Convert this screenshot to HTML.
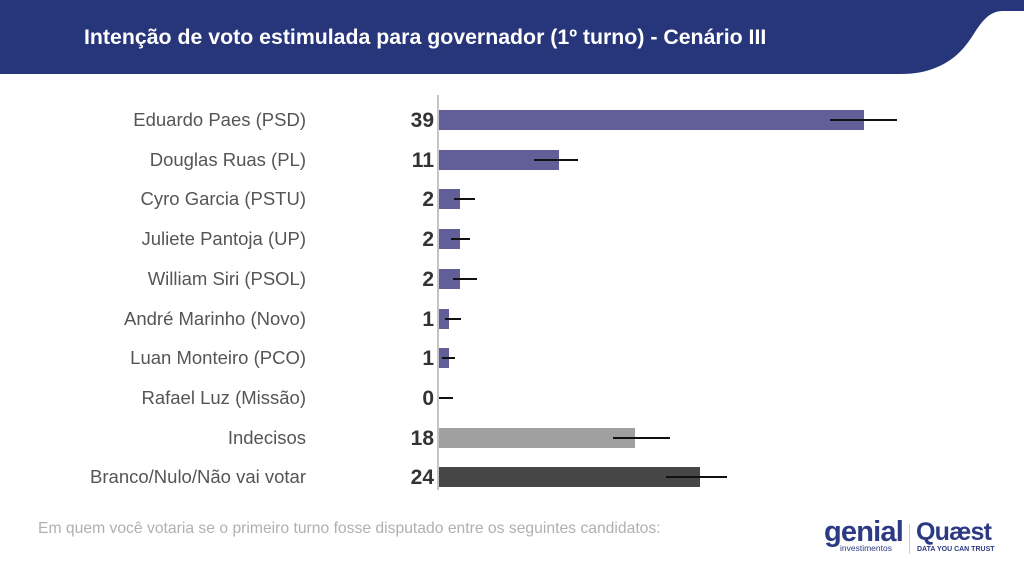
<!DOCTYPE html>
<html><head><meta charset="utf-8"><style>
body{margin:0;width:1024px;height:575px;background:#fff;position:relative;overflow:hidden;font-family:"Liberation Sans",sans-serif}
.t{position:absolute;white-space:nowrap}
.lab{position:absolute;right:718px;font-size:18.5px;color:#555;line-height:20px;white-space:nowrap}
.val{position:absolute;right:590px;font-size:21px;font-weight:bold;color:#333;line-height:20px;margin-top:1px}
.bar{position:absolute;left:439px;height:20px}
.eb{position:absolute;height:2px;background:#111}
</style></head><body>
<svg width="1024" height="80" style="position:absolute;left:0;top:0">
<path d="M0 0 H1024 V11 H1003 C990 11 983 20 975 32 C965 48 955 60 935 68 C925 72 915 74 900 74 H0 Z" fill="#27357a"/>
</svg>
<div class="t" style="left:84px;top:25px;font-size:21.3px;font-weight:bold;color:#fff">Intenção de voto estimulada para governador (1º turno) - Cenário III</div>

<div style="position:absolute;left:437px;top:95px;width:2px;height:395px;background:#c4c4c4"></div>

<div class="lab" style="top:110px">Eduardo Paes (PSD)</div>
<div class="lab" style="top:150px">Douglas Ruas (PL)</div>
<div class="lab" style="top:189px">Cyro Garcia (PSTU)</div>
<div class="lab" style="top:229px">Juliete Pantoja (UP)</div>
<div class="lab" style="top:269px">William Siri (PSOL)</div>
<div class="lab" style="top:309px">André Marinho (Novo)</div>
<div class="lab" style="top:348px">Luan Monteiro (PCO)</div>
<div class="lab" style="top:388px">Rafael Luz (Missão)</div>
<div class="lab" style="top:428px">Indecisos</div>
<div class="lab" style="top:467px">Branco/Nulo/Não vai votar</div>

<div class="val" style="top:110px">39</div>
<div class="val" style="top:150px">11</div>
<div class="val" style="top:189px">2</div>
<div class="val" style="top:229px">2</div>
<div class="val" style="top:269px">2</div>
<div class="val" style="top:309px">1</div>
<div class="val" style="top:348px">1</div>
<div class="val" style="top:388px">0</div>
<div class="val" style="top:428px">18</div>
<div class="val" style="top:467px">24</div>

<div class="bar" style="top:110px;width:425px;background:#625e98"></div>
<div class="bar" style="top:150px;width:120px;background:#625e98"></div>
<div class="bar" style="top:189px;width:21px;background:#625e98"></div>
<div class="bar" style="top:229px;width:21px;background:#625e98"></div>
<div class="bar" style="top:269px;width:21px;background:#625e98"></div>
<div class="bar" style="top:309px;width:10px;background:#625e98"></div>
<div class="bar" style="top:348px;width:10px;background:#625e98"></div>
<div class="bar" style="top:428px;width:196px;background:#a0a0a0"></div>
<div class="bar" style="top:467px;width:261px;background:#464646"></div>

<div class="eb" style="top:119px;left:830px;width:67px"></div>
<div class="eb" style="top:159px;left:534px;width:44px"></div>
<div class="eb" style="top:198px;left:454px;width:21px"></div>
<div class="eb" style="top:238px;left:451px;width:19px"></div>
<div class="eb" style="top:278px;left:453px;width:24px"></div>
<div class="eb" style="top:318px;left:445px;width:16px"></div>
<div class="eb" style="top:357px;left:442px;width:13px"></div>
<div class="eb" style="top:397px;left:439px;width:14px"></div>
<div class="eb" style="top:437px;left:613px;width:57px"></div>
<div class="eb" style="top:476px;left:666px;width:61px"></div>

<div class="t" style="left:38px;top:520px;font-size:15.7px;color:#b0b0b0">Em quem você votaria se o primeiro turno fosse disputado entre os seguintes candidatos:</div>

<div class="t" style="left:824px;top:517px;font-size:29px;font-weight:bold;color:#2b3a83;letter-spacing:-0.8px;line-height:30px">genial</div>
<div class="t" style="left:840px;top:543px;font-size:8.5px;color:#2b3a83;line-height:10px">investimentos</div>
<div style="position:absolute;left:909px;top:524px;width:1px;height:30px;background:#ccc"></div>
<div class="t" style="left:916px;top:519px;font-size:25px;font-weight:bold;color:#2b3a83;letter-spacing:-0.8px;line-height:26px">Quæst</div>
<div class="t" style="left:917px;top:546px;font-size:7px;font-weight:bold;color:#2b3a83;line-height:8px">DATA YOU CAN TRUST</div>
</body></html>
